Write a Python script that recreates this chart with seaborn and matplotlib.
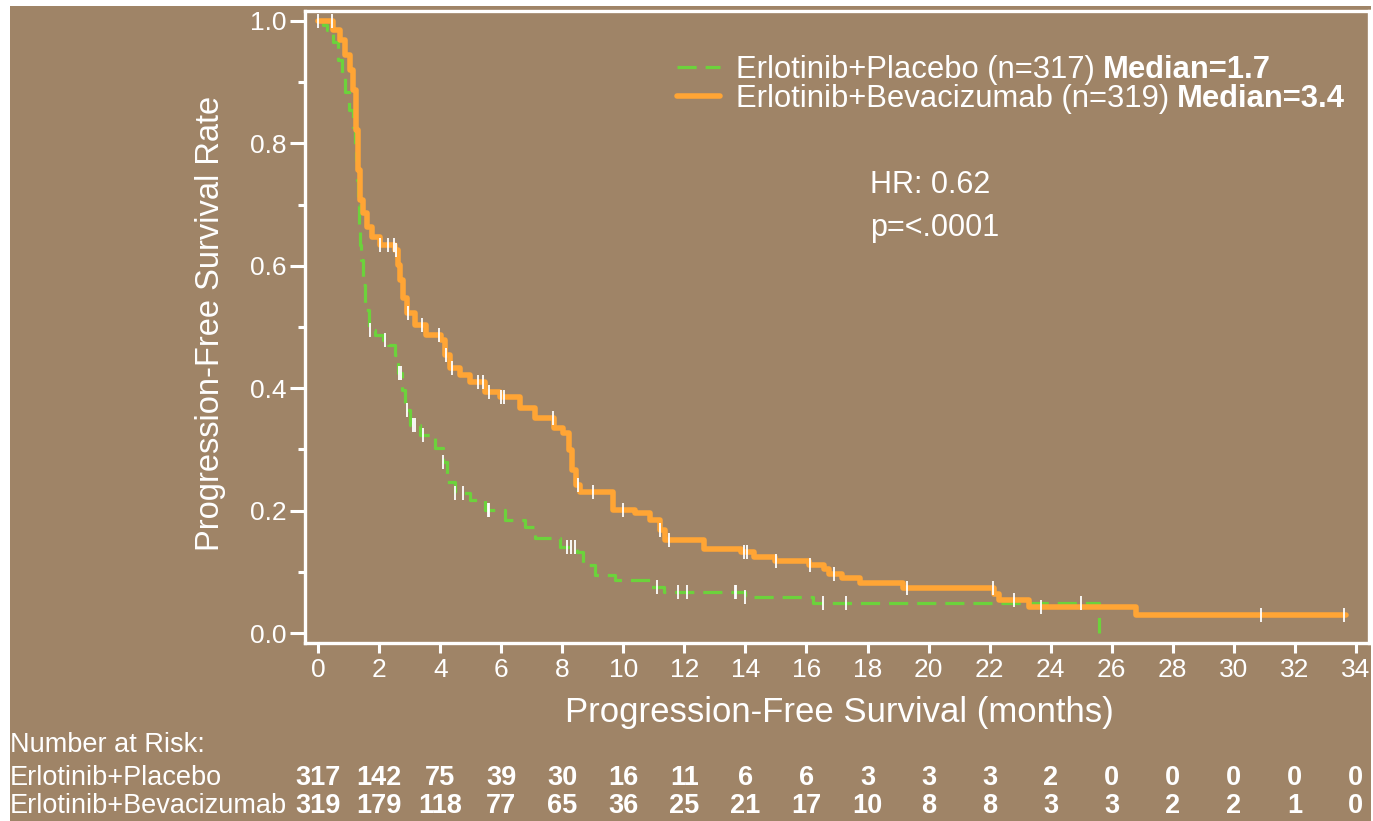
import numpy as np
import pandas as pd
import matplotlib
matplotlib.use("Agg")
import matplotlib.pyplot as plt
import matplotlib.transforms as mtransforms
from matplotlib.patches import Rectangle
import seaborn as sns

# Kaplan-Meier step curves (time in months, survival probability after each step)
placebo_t = [0.0, 0.16, 0.29, 0.49, 0.66, 0.79, 0.88, 1.02, 1.15, 1.21, 1.24, 1.28, 1.31,
             1.34, 1.38, 1.41, 1.47, 1.54, 1.67, 1.87, 2.13, 2.29, 2.52, 2.62, 2.75, 2.85,
             3.01, 3.34, 3.83, 4.09, 4.23, 4.49, 4.98, 5.47, 6.13, 6.78, 7.11, 7.93, 8.48,
             8.68, 9.07, 9.73, 10.87, 11.33, 13.99, 16.21, 25.58]
placebo_s = [1.0, 0.993, 0.985, 0.966, 0.936, 0.912, 0.884, 0.855, 0.827, 0.797, 0.773, 0.740,
             0.699, 0.667, 0.634, 0.609, 0.569, 0.528, 0.495, 0.487, 0.479, 0.471, 0.454, 0.425,
             0.397, 0.364, 0.340, 0.324, 0.302, 0.279, 0.247, 0.229, 0.217, 0.201, 0.185, 0.173,
             0.155, 0.141, 0.132, 0.111, 0.095, 0.087, 0.075, 0.067, 0.059, 0.049, 0.0]

beva_t = [0.0, 0.49, 0.72, 0.88, 1.05, 1.15, 1.24, 1.31, 1.38, 1.47, 1.60, 1.77, 2.03, 2.52,
          2.62, 2.69, 2.78, 2.92, 3.18, 3.54, 4.03, 4.16, 4.32, 4.65, 4.98, 5.47, 5.96, 6.62,
          7.11, 7.73, 8.02, 8.22, 8.32, 8.45, 8.58, 9.66, 10.38, 10.87, 11.20, 11.37, 12.64,
          13.86, 14.28, 14.97, 16.08, 16.57, 16.74, 17.16, 17.75, 19.16, 22.14, 22.31, 23.29,
          26.79, 33.67]
beva_s = [1.0, 0.985, 0.969, 0.944, 0.920, 0.887, 0.822, 0.757, 0.708, 0.686, 0.663, 0.647,
          0.634, 0.626, 0.601, 0.577, 0.547, 0.523, 0.503, 0.487, 0.479, 0.454, 0.433, 0.422,
          0.410, 0.394, 0.386, 0.368, 0.351, 0.335, 0.327, 0.299, 0.266, 0.242, 0.230, 0.201,
          0.196, 0.185, 0.168, 0.152, 0.137, 0.132, 0.124, 0.118, 0.111, 0.105, 0.096, 0.090,
          0.082, 0.074, 0.064, 0.054, 0.042, 0.029, 0.029]

# Censoring times
placebo_cens = [1.7, 2.2, 2.65, 2.72, 2.9, 3.1, 3.18, 3.45, 4.1, 4.5, 4.75, 5.55, 5.6, 8.15,
                8.3, 8.4, 11.1, 11.8, 12.1, 13.65, 13.7, 14.0, 16.55, 17.3, 25.0]
beva_cens = [0.0, 0.45, 2.03, 2.3, 2.5, 2.55, 2.95, 3.4, 3.96, 4.2, 4.4, 5.25, 5.4, 5.6, 6.0,
             6.1, 7.7, 8.5, 9.0, 10.0, 11.2, 11.5, 13.95, 14.05, 15.0, 16.1, 16.9, 19.3, 22.1,
             22.8, 23.7, 30.9, 33.6]

# Number-at-risk table
risk_months = [0, 2, 4, 6, 8, 10, 12, 14, 16, 18, 20, 22, 24, 26, 28, 30, 32, 34]
placebo_risk = [317, 142, 75, 39, 30, 16, 11, 6, 6, 3, 3, 3, 2, 0, 0, 0, 0, 0]
beva_risk = [319, 179, 118, 77, 65, 36, 25, 21, 17, 10, 8, 8, 3, 3, 2, 2, 1, 0]

placebo_name = "Erlotinib+Placebo"
beva_name = "Erlotinib+Bevacizumab"
placebo_label = "Erlotinib+Placebo (n=317)"
beva_label = "Erlotinib+Bevacizumab (n=319)"
placebo_median = "Median=1.7"
beva_median = "Median=3.4"
hr_text = "HR: 0.62"
p_text = "p=<.0001"

BG = "#9F8467"
ORANGE = "#FFA535"
GREEN = "#6CD23C"
WHITE = "white"

sns.set_style("ticks")
plt.rcParams["font.family"] = ["Liberation Sans", "DejaVu Sans"]
plt.rcParams["text.color"] = WHITE

W, H = 1373, 821
fig = plt.figure(figsize=(W / 100, H / 100), dpi=100)
fig.patch.set_facecolor("white")
fig.patches.append(Rectangle((10 / W, 0), (1371 - 10) / W, (821 - 6) / H,
                             transform=fig.transFigure, facecolor=BG,
                             edgecolor="none", zorder=-10))

ax = fig.add_axes([305 / W, (H - 643) / H, (1369 - 305) / W, (643 - 11) / H])
ax.set_facecolor(BG)


def step_value(times, surv, q):
    idx = np.searchsorted(np.asarray(times), np.asarray(q), side="right") - 1
    return np.asarray(surv)[np.clip(idx, 0, len(surv) - 1)]


df_p = pd.DataFrame({"t": placebo_t, "s": placebo_s})
df_b = pd.DataFrame({"t": beva_t, "s": beva_s})

sns.lineplot(data=df_p, x="t", y="s", ax=ax, color=GREEN, lw=2.3,
             linestyle=(0, (6, 2.8)), drawstyle="steps-post", estimator=None,
             label=placebo_label, zorder=3)
sns.lineplot(data=df_b, x="t", y="s", ax=ax, color=ORANGE, lw=4.0,
             drawstyle="steps-post", estimator=None, label=beva_label, zorder=4)

# Censor marks
cens_p = pd.DataFrame({"t": placebo_cens,
                       "s": step_value(placebo_t, placebo_s, placebo_cens)})
cens_b = pd.DataFrame({"t": beva_cens,
                       "s": step_value(beva_t, beva_s, beva_cens)})
for cdf in (cens_p, cens_b):
    sns.scatterplot(data=cdf, x="t", y="s", ax=ax, marker="|", s=110,
                    color=WHITE, linewidth=1.3, zorder=5, legend=False)

ax.set_xlim(-0.43, 34.43)
ax.set_ylim(-0.016, 1.016)
ax.set_xticks(np.arange(0, 35, 2))
ax.set_yticks(np.arange(0, 1.01, 0.2))
ax.set_yticks(np.arange(0.1, 1.0, 0.2), minor=True)
ax.set_yticklabels([f"{v:.1f}" for v in np.arange(0, 1.01, 0.2)])

for sp in ax.spines.values():
    sp.set_visible(True)
    sp.set_color(WHITE)
    sp.set_linewidth(2.4)

ax.tick_params(axis="both", which="both", colors=WHITE, width=2.2, direction="out",
               labelsize=19, labelcolor=WHITE)
ax.tick_params(axis="x", length=7, pad=4)
ax.tick_params(axis="y", which="major", length=11, pad=2)
ax.tick_params(axis="y", which="minor", length=5)

ax.set_xlabel("Progression-Free Survival (months)", fontsize=25, color=WHITE)
ax.set_ylabel("Progression-Free Survival Rate", fontsize=23.5, color=WHITE)
ax.xaxis.set_label_coords(0.502, -0.084)
ax.yaxis.set_label_coords(-0.074, 0.505)

# Legend with bold medians appended after each label
leg = ax.legend(loc="upper left", bbox_to_anchor=(0.3496, 0.931), frameon=False,
                fontsize=22.3, handlelength=1.4, handletextpad=0.5, labelspacing=-0.03,
                borderpad=0, borderaxespad=0)
leg.set_zorder(8)
for txt in leg.get_texts():
    txt.set_color(WHITE)
for txt, med in zip(leg.get_texts(), [placebo_median, beva_median]):
    ann = ax.annotate(med, xy=(1, 0), xycoords=txt, xytext=(6, 0),
                      textcoords="offset points", ha="left", va="bottom",
                      fontsize=22.3, fontweight="bold", color=WHITE)
    ann.set_zorder(12)

ax.text(0.531, 0.7247, hr_text, transform=ax.transAxes, fontsize=22, color=WHITE,
        va="center", ha="left")
ax.text(0.531, 0.6566, p_text, transform=ax.transAxes, fontsize=22, color=WHITE,
        va="center", ha="left")

# Number at risk table below the axis
blend = mtransforms.blended_transform_factory(ax.transData, fig.transFigure)
fig.text(10 / W, (H - 752) / H, "Number at Risk:", fontsize=19.5, color=WHITE,
         va="baseline", ha="left")
for name, counts, ybase in ((placebo_name, placebo_risk, 785),
                            (beva_name, beva_risk, 813)):
    yf = (H - ybase) / H
    fig.text(10 / W, yf, name, fontsize=19.5, color=WHITE, va="baseline", ha="left")
    for m, c in zip(risk_months, counts):
        ax.text(m, yf, str(c), transform=blend, fontsize=19.5, fontweight="bold",
                color=WHITE, va="baseline", ha="center", clip_on=False)

fig.savefig("out.png", dpi=100, facecolor=fig.get_facecolor())
